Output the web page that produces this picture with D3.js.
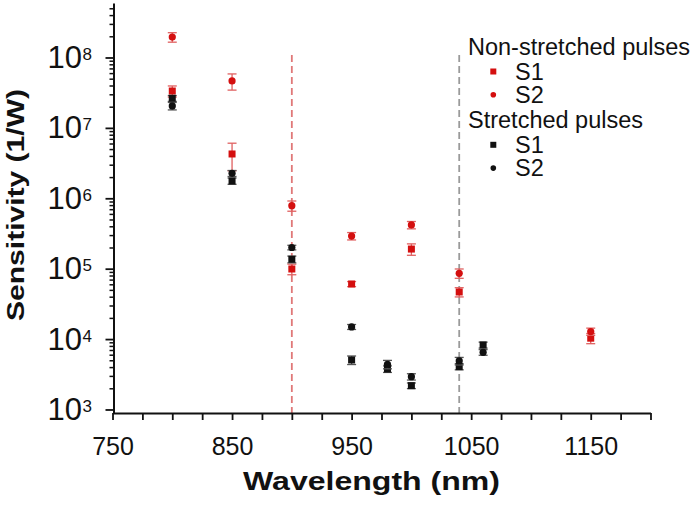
<!DOCTYPE html>
<html>
<head>
<meta charset="utf-8">
<script src="https://cdn.jsdelivr.net/npm/d3@7"></script>
<style>
  html, body { margin: 0; padding: 0; background: #fff; }
  svg { display: block; font-family: "Liberation Sans", Arial, sans-serif; }
</style>
</head>
<body>
<svg id="chart" width="697" height="506"></svg>
<script>
// ---- data ----
const nsS1_wl  = [800, 850, 900, 950, 1000, 1040, 1150];
const nsS1_val = [3.34e7, 4.26e6, 9.9e4, 6.06e4, 1.9e5, 4.67e4, 1.03e4];
const nsS1_err = [6e6, 1.8e6, 1.7e4, 5e3, 3.5e4, 7e3, 1.7e3];

const nsS2_wl  = [800, 850, 900, 950, 1000, 1040, 1150];
const nsS2_val = [1.95e8, 4.64e7, 7.85e5, 2.91e5, 4.18e5, 8.6e4, 1.28e4];
const nsS2_err = [3e7, 1.2e7, 1.3e5, 3.5e4, 5e4, 1.3e4, 1.5e3];

const stS1_wl  = [800, 850, 900, 950, 980, 1000, 1040, 1060];
const stS1_val = [2.63e7, 1.76e6, 1.36e5, 5.05e3, 3.76e3, 2.18e3, 4.06e3, 8.25e3];
const stS1_err = [2.5e6, 1.8e5, 1.5e4, 7e2, 4e2, 2e2, 4e2, 8e2];

const stS2_wl  = [800, 850, 900, 950, 980, 1000, 1040, 1060];
const stS2_val = [2.05e7, 2.26e6, 2.0e5, 1.49e4, 4.38e3, 2.92e3, 4.89e3, 6.49e3];
const stS2_err = [2.5e6, 2.2e5, 1.5e4, 1.2e3, 6e2, 3e2, 6e2, 6e2];

const xTickValues = [750, 775, 800, 825, 850, 875, 900, 925, 950, 975, 1000, 1025, 1050, 1075, 1100, 1125, 1150, 1175, 1200];
const xTickLabels = [750, 850, 950, 1050, 1150];
const yDecades = [3, 4, 5, 6, 7, 8];
const dashedLines = [900, 1040];

const xTitle = "Wavelength (nm)";
const yTitle = "Sensitivity (1/W)";
const legendGroups = ["Non-stretched pulses", "Stretched pulses"];
const legendItems = ["S1", "S2"];

// ---- layout ----
const svg = d3.select("#chart");
const x = d3.scaleLinear().domain([750, 1200]).range([112.5, 650.5]);
const y = d3.scaleLog().domain([Math.pow(10, 2.95), Math.pow(10, 8.774)]).range([413, 3]);

const RED = "#d40f0f", RED_ERR = "#e06060", BLK = "#111", BLK_ERR = "#555";

// dashed vertical lines
const dashColors = ["#e07878", "#9a9a9a"];
svg.selectAll("line.dash").data(dashedLines).enter().append("line")
  .attr("x1", d => x(d)).attr("x2", d => x(d))
  .attr("y1", 55).attr("y2", 413)
  .attr("stroke", (d, i) => dashColors[i])
  .attr("stroke-width", 1.8)
  .attr("stroke-dasharray", "7,4");

// x axis
const xAxis = d3.axisBottom(x).tickValues(xTickValues).tickSize(7).tickSizeOuter(0)
  .tickPadding(17.25)
  .tickFormat(d => xTickLabels.includes(d) ? d : "");
const gx = svg.append("g").attr("transform", "translate(0,413)").call(xAxis);
gx.select(".domain").attr("stroke", "#111").attr("stroke-width", 2);
gx.selectAll(".tick line").attr("stroke", "#111").attr("stroke-width", 1.8);
gx.selectAll(".tick text").attr("font-size", 25).attr("fill", "#111")
  .attr("font-family", "'Liberation Sans', Arial, sans-serif");

// y axis minor ticks
const minorVals = [];
yDecades.forEach(e => { for (let m = 2; m <= 9; m++) { const v = m * Math.pow(10, e); if (v <= y.domain()[1] && v >= y.domain()[0]) minorVals.push(v); } });
const gyMinor = svg.append("g").attr("transform", "translate(113.5,0)")
  .call(d3.axisLeft(y).tickValues(minorVals).tickSize(4).tickSizeOuter(0).tickFormat(""));
gyMinor.select(".domain").remove();
gyMinor.selectAll(".tick line").attr("stroke", "#111").attr("stroke-width", 1.5);

const gy = svg.append("g").attr("transform", "translate(113.5,0)")
  .call(d3.axisLeft(y).tickValues(yDecades.map(e => Math.pow(10, e))).tickSize(8).tickSizeOuter(0).tickFormat(""));
gy.select(".domain").attr("stroke", "#111").attr("stroke-width", 2);
gy.selectAll(".tick line").attr("stroke", "#111").attr("stroke-width", 1.8);

// y tick labels 10^n
const yl = svg.append("g");
yDecades.forEach(e => {
  const yy = y(Math.pow(10, e));
  yl.append("text").attr("x", 82).attr("y", yy + 10.5).attr("text-anchor", "end")
    .attr("font-size", 31).attr("fill", "#111").text("10");
  yl.append("text").attr("x", 82.5).attr("y", yy + 2.5).attr("text-anchor", "start")
    .attr("font-size", 17).attr("fill", "#111").text(e);
});

// axis titles
svg.append("text").attr("x", 371.5).attr("y", 490).attr("text-anchor", "middle")
  .attr("font-size", 25).attr("font-weight", "bold").attr("fill", "#111")
  .attr("textLength", 257).attr("lengthAdjust", "spacingAndGlyphs").text(xTitle);
svg.append("text").attr("transform", "translate(23.5,205) rotate(-90)")
  .attr("text-anchor", "middle")
  .attr("font-size", 24).attr("font-weight", "bold").attr("fill", "#111")
  .attr("textLength", 232).attr("lengthAdjust", "spacingAndGlyphs").text(yTitle);

// series
function series(wl, val, err, color, errColor, shape) {
  const data = wl.map((w, i) => ({ w, v: val[i], e: err[i] }));
  const g = svg.append("g");
  const cap = 4.5;
  data.forEach(d => {
    const cx = x(d.w), top = y(d.v + d.e), bot = y(Math.max(d.v - d.e, 1));
    g.append("line").attr("x1", cx).attr("x2", cx).attr("y1", top).attr("y2", bot)
      .attr("stroke", errColor).attr("stroke-width", 1.3);
    g.append("line").attr("x1", cx - cap).attr("x2", cx + cap).attr("y1", top).attr("y2", top)
      .attr("stroke", errColor).attr("stroke-width", 1.3);
    g.append("line").attr("x1", cx - cap).attr("x2", cx + cap).attr("y1", bot).attr("y2", bot)
      .attr("stroke", errColor).attr("stroke-width", 1.3);
  });
  if (shape === "square") {
    g.selectAll("rect").data(data).enter().append("rect")
      .attr("x", d => x(d.w) - 3.5).attr("y", d => y(d.v) - 3.5)
      .attr("width", 7).attr("height", 7).attr("fill", color);
  } else {
    g.selectAll("circle").data(data).enter().append("circle")
      .attr("cx", d => x(d.w)).attr("cy", d => y(d.v)).attr("r", 3.6).attr("fill", color);
  }
}
series(nsS1_wl, nsS1_val, nsS1_err, RED, RED_ERR, "square");
series(nsS2_wl, nsS2_val, nsS2_err, RED, RED_ERR, "circle");
series(stS1_wl, stS1_val, stS1_err, BLK, BLK_ERR, "square");
series(stS2_wl, stS2_val, stS2_err, BLK, BLK_ERR, "circle");

// legend
const lg = svg.append("g").attr("font-size", 23.5).attr("fill", "#111");
const groupY = [55, 128.3];
const colors = [RED, BLK];
legendGroups.forEach((name, gi) => {
  lg.append("text").attr("x", 468).attr("y", groupY[gi]).text(name);
  legendItems.forEach((it, ii) => {
    const by = groupY[gi] + 24.5 + ii * 23.3;
    lg.append("text").attr("x", 515).attr("y", by).text(it);
    const my = by - 8;
    if (ii === 0) {
      lg.append("rect").attr("x", 490.3).attr("y", my - 3).attr("width", 6).attr("height", 6).attr("fill", colors[gi]);
    } else {
      lg.append("circle").attr("cx", 493.3).attr("cy", my).attr("r", 2.8).attr("fill", colors[gi]);
    }
  });
});
</script>
</body>
</html>
